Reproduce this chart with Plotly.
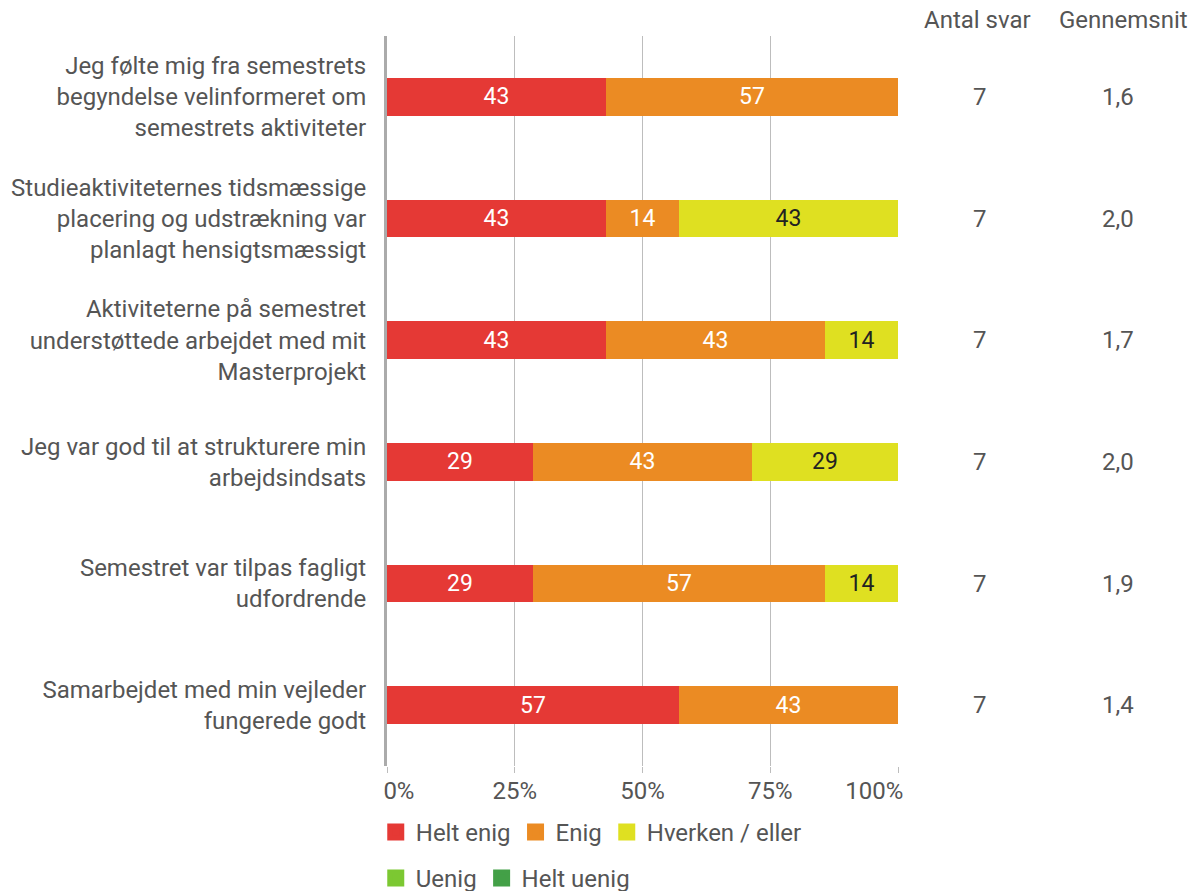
import plotly.graph_objects as go

categories = [
    "Jeg følte mig fra semestrets<br>begyndelse velinformeret om<br>semestrets aktiviteter",
    "Studieaktiviteternes tidsmæssige<br>placering og udstrækning var<br>planlagt hensigtsmæssigt",
    "Aktiviteterne på semestret<br>understøttede arbejdet med mit<br>Masterprojekt",
    "Jeg var god til at strukturere min<br>arbejdsindsats",
    "Semestret var tilpas fagligt<br>udfordrende",
    "Samarbejdet med min vejleder<br>fungerede godt",
]
helt_enig = [42.86, 42.86, 42.86, 28.57, 28.57, 57.14]
enig = [57.14, 14.29, 42.86, 42.86, 57.14, 42.86]
hverken = [None, 42.86, 14.29, 28.57, 14.29, None]
uenig = [None, None, None, None, None, None]
helt_uenig = [None, None, None, None, None, None]
antal_svar = ["7", "7", "7", "7", "7", "7"]
gennemsnit = ["1,6", "2,0", "1,7", "2,0", "1,9", "1,4"]
tick_vals = [0, 25, 50, 75, 100]
tick_text = ["0%", "25%", "50%", "75%", "100%"]

NB = "\u00a0"
# first/last tick labels are kept inside the plot width, as in the reference
tick_disp = [NB * 4 + tick_text[0]] + tick_text[1:-1] + [tick_text[-1] + NB * 8]

series = [
    ("Helt enig", helt_enig, "#E53935", "white", "legend"),
    ("Enig", enig, "#EB8B23", "white", "legend"),
    ("Hverken / eller", hverken, "#DFE021", "#222222", "legend"),
    ("Uenig", uenig, "#7CC832", "white", "legend2"),
    ("Helt uenig", helt_uenig, "#43A047", "white", "legend2"),
]

FONT = "Roboto"
GREY = "#555555"
FS = 24

fig = go.Figure()
for name, vals, color, tcolor, lg in series:
    fig.add_trace(go.Bar(
        y=categories, x=vals, orientation="h", name=name,
        marker=dict(color=color, line=dict(width=0)),
        texttemplate="%{x:.0f}", textposition="inside",
        insidetextanchor="middle",
        textfont=dict(family=FONT, size=FS - 1, color=tcolor),
        showlegend=False, hoverinfo="skip",
    ))
for name, vals, color, tcolor, lg in series:
    fig.add_trace(go.Bar(
        y=[None], x=[None], orientation="h", name=name,
        marker=dict(color=color, line=dict(width=5, color=color)),
        showlegend=True, legend=lg,
    ))

annotations = [
    dict(text="Antal svar", x=1.1546, y=1.022, xref="paper", yref="paper",
         showarrow=False, xanchor="center", yanchor="middle",
         font=dict(family=FONT, size=FS, color=GREY)),
    dict(text="Gennemsnit", x=1.4405, y=1.022, xref="paper", yref="paper",
         showarrow=False, xanchor="center", yanchor="middle",
         font=dict(family=FONT, size=FS, color=GREY)),
]
for c, n, m in zip(categories, antal_svar, gennemsnit):
    annotations.append(dict(text=n, x=1.1605, y=c, xref="paper", yref="y",
                            showarrow=False, xanchor="center", yanchor="middle",
                            font=dict(family=FONT, size=FS, color=GREY)))
    annotations.append(dict(text=m, x=1.4305, y=c, xref="paper", yref="y",
                            showarrow=False, xanchor="center", yanchor="middle",
                            font=dict(family=FONT, size=FS, color=GREY)))

fig.update_layout(
    width=1189, height=883,
    margin=dict(l=379, r=299, t=28, b=125, autoexpand=False),
    barmode="stack", bargap=0.69,
    plot_bgcolor="white", paper_bgcolor="white",
    font=dict(family=FONT, size=FS, color=GREY),
    xaxis=dict(range=[0, 100], tickvals=tick_vals, ticktext=tick_disp,
               showgrid=True, gridcolor="#BDBDBD", gridwidth=1,
               zeroline=False, ticks="outside", ticklen=6, tickcolor="#BDBDBD",
               ticklabelstandoff=-3,
               tickfont=dict(family=FONT, size=FS, color=GREY), fixedrange=True),
    yaxis=dict(autorange="reversed", showgrid=False, ticks="",
               showline=True, linecolor="#ABABAB", linewidth=3,
               ticklabelstandoff=13,
               tickfont=dict(family=FONT, size=FS, color=GREY)),
    legend=dict(orientation="h", x=-0.022, y=-0.060, xanchor="left", yanchor="top",
                traceorder="normal",
                font=dict(family=FONT, size=FS, color=GREY), bgcolor="rgba(0,0,0,0)"),
    legend2=dict(orientation="h", x=-0.022, y=-0.123, xanchor="left", yanchor="top",
                 traceorder="normal",
                 font=dict(family=FONT, size=FS, color=GREY), bgcolor="rgba(0,0,0,0)"),
    annotations=annotations,
)

fig.write_html("out.html")
